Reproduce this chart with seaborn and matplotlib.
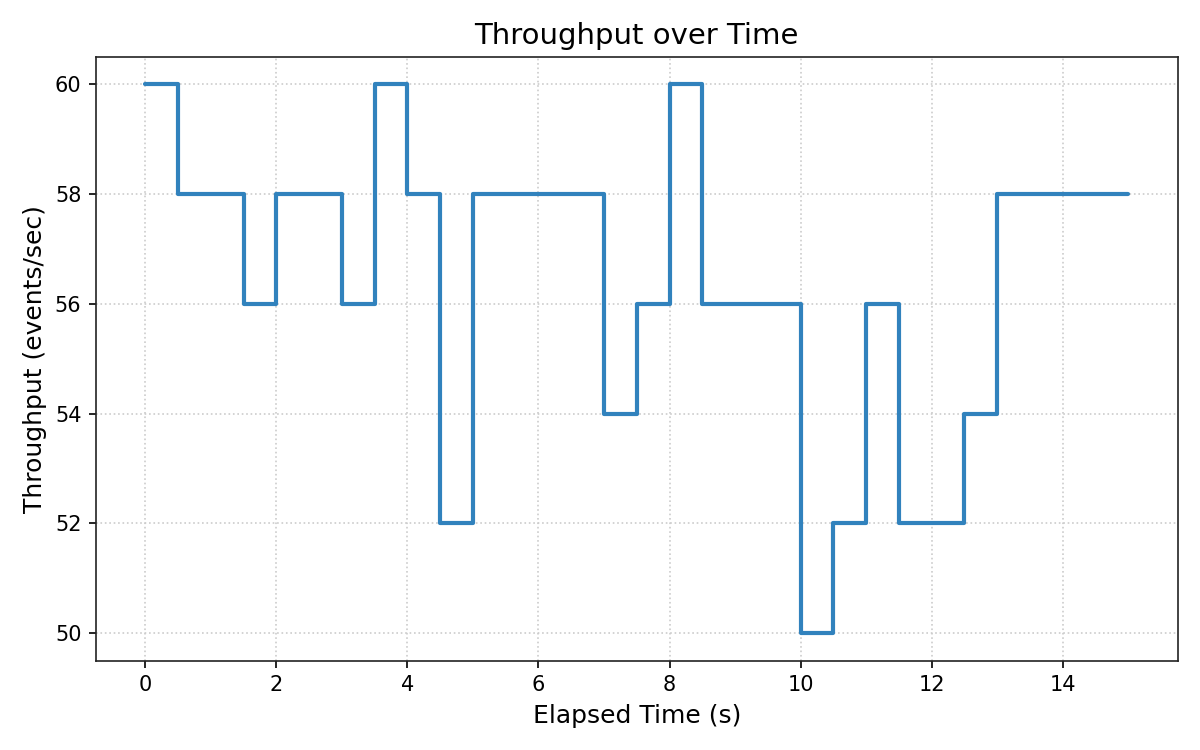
import matplotlib
matplotlib.use("Agg")
import matplotlib.pyplot as plt
import seaborn as sns
import pandas as pd

time_s = [0, 0.5, 1, 1.5, 2, 2.5, 3, 3.5, 4, 4.5, 5, 5.5, 6, 6.5, 7, 7.5,
          8, 8.5, 9, 9.5, 10, 10.5, 11, 11.5, 12, 12.5, 13, 13.5, 14, 14.5, 15]
throughput = [60, 58, 58, 56, 58, 58, 56, 60, 58, 52, 58, 58, 58, 58, 54, 56,
              60, 56, 56, 56, 50, 52, 56, 52, 52, 54, 58, 58, 58, 58, 58]

df = pd.DataFrame({"t": time_s, "v": throughput})

sns.set_style("ticks", {"text.color": "black", "axes.labelcolor": "black",
                        "xtick.color": "black", "ytick.color": "black",
                        "axes.edgecolor": "#222222"})
plt.rcParams['font.family'] = ['DejaVu Sans']

fig, ax = plt.subplots(figsize=(8, 5), dpi=150)
sns.lineplot(data=df, x="t", y="v", ax=ax, drawstyle="steps-post",
             color="#3182bd", linewidth=2)
ax.grid(True, linestyle=":", color="#cccccc", linewidth=0.8)
for s in ax.spines.values():
    s.set_visible(True)
ax.set_title("Throughput over Time", fontsize=14, color="black")
ax.set_xlabel("Elapsed Time (s)", fontsize=12)
ax.set_ylabel("Throughput (events/sec)", fontsize=12)
ax.set_xticks([0, 2, 4, 6, 8, 10, 12, 14])
ax.set_yticks([50, 52, 54, 56, 58, 60])
fig.tight_layout()
fig.savefig("out.png", dpi=150)
